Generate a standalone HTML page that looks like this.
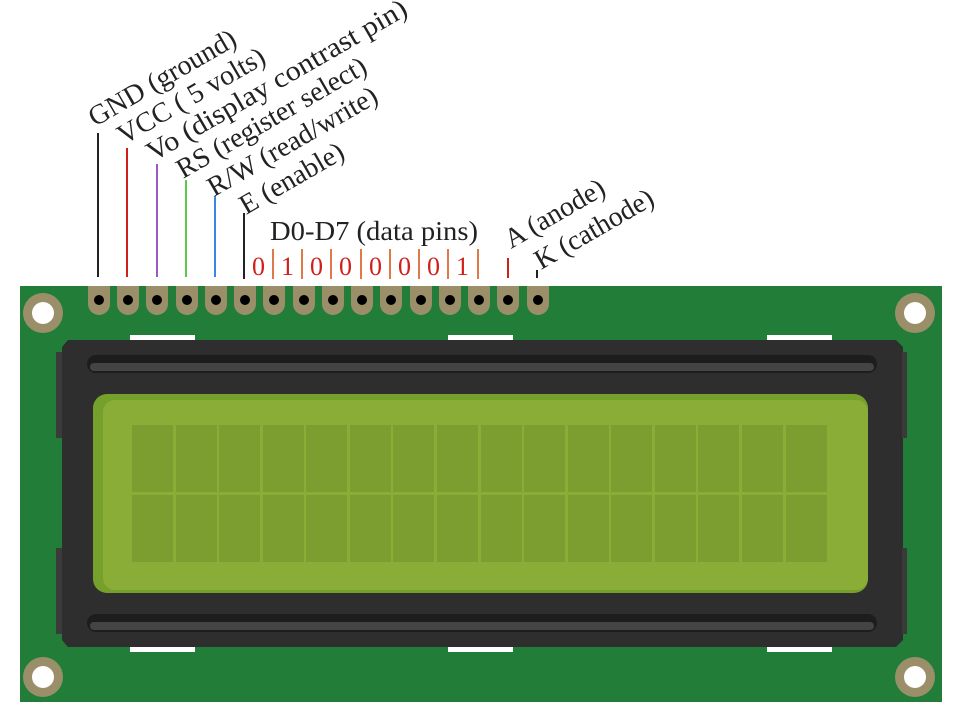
<!DOCTYPE html>
<html><head><style>body{margin:0;background:#fff}svg{display:block}</style></head><body>
<svg width="960" height="714" xmlns="http://www.w3.org/2000/svg" font-family="Liberation Serif, serif" fill="#222">
<rect x="20" y="286" width="922" height="416" fill="#217d38"/>
<g fill="#9b8f6a"><circle cx="43" cy="313" r="20"/><circle cx="915" cy="313" r="20"/><circle cx="43" cy="677" r="20"/><circle cx="915" cy="677" r="20"/></g>
<g fill="#fff"><circle cx="43" cy="313" r="11"/><circle cx="915" cy="313" r="11"/><circle cx="43" cy="677" r="11"/><circle cx="915" cy="677" r="11"/></g>
<g fill="#fff"><rect x="130" y="335" width="65" height="5"/><rect x="448" y="335" width="65" height="5"/><rect x="767" y="335" width="65" height="5"/><rect x="130" y="647" width="65" height="5"/><rect x="448" y="647" width="65" height="5"/><rect x="767" y="647" width="65" height="5"/></g>
<path d="M68 340 H896 L903 347 V640 L896 647 H68 L62 640 V347 Z" fill="#2e2e2e"/>
<rect x="56" y="352" width="6" height="86" fill="#3a3a3a"/><rect x="56" y="548" width="6" height="86" fill="#3a3a3a"/>
<rect x="902" y="352" width="5" height="86" fill="#3a3a3a"/><rect x="902" y="548" width="5" height="86" fill="#3a3a3a"/>
<rect x="87" y="355" width="790" height="18" rx="9" fill="#1d1d1d"/><rect x="90" y="363" width="784" height="8" rx="4" fill="#444"/>
<rect x="87" y="614" width="790" height="18" rx="9" fill="#1d1d1d"/><rect x="90" y="622" width="784" height="8" rx="4" fill="#444"/>
<rect x="93" y="394" width="775" height="199" rx="14" fill="#76a02c"/>
<rect x="103" y="400" width="765" height="190" rx="12" fill="#8aad37"/>
<g fill="#7c9e30">
<rect x="132" y="425" width="41" height="67"/><rect x="176" y="425" width="41" height="67"/><rect x="219" y="425" width="41" height="67"/><rect x="263" y="425" width="41" height="67"/><rect x="306" y="425" width="41" height="67"/><rect x="350" y="425" width="41" height="67"/><rect x="393" y="425" width="41" height="67"/><rect x="437" y="425" width="41" height="67"/><rect x="481" y="425" width="41" height="67"/><rect x="524" y="425" width="41" height="67"/><rect x="568" y="425" width="41" height="67"/><rect x="611" y="425" width="41" height="67"/><rect x="655" y="425" width="41" height="67"/><rect x="698" y="425" width="41" height="67"/><rect x="742" y="425" width="41" height="67"/><rect x="786" y="425" width="41" height="67"/>
<rect x="132" y="495" width="41" height="67"/><rect x="176" y="495" width="41" height="67"/><rect x="219" y="495" width="41" height="67"/><rect x="263" y="495" width="41" height="67"/><rect x="306" y="495" width="41" height="67"/><rect x="350" y="495" width="41" height="67"/><rect x="393" y="495" width="41" height="67"/><rect x="437" y="495" width="41" height="67"/><rect x="481" y="495" width="41" height="67"/><rect x="524" y="495" width="41" height="67"/><rect x="568" y="495" width="41" height="67"/><rect x="611" y="495" width="41" height="67"/><rect x="655" y="495" width="41" height="67"/><rect x="698" y="495" width="41" height="67"/><rect x="742" y="495" width="41" height="67"/><rect x="786" y="495" width="41" height="67"/>
</g>
<g fill="#9b8f6a">
<path d="M88 286h22v18a11 11 0 0 1-22 0z"/><path d="M117 286h22v18a11 11 0 0 1-22 0z"/><path d="M146 286h22v18a11 11 0 0 1-22 0z"/><path d="M176 286h22v18a11 11 0 0 1-22 0z"/><path d="M205 286h22v18a11 11 0 0 1-22 0z"/><path d="M234 286h22v18a11 11 0 0 1-22 0z"/><path d="M263 286h22v18a11 11 0 0 1-22 0z"/><path d="M293 286h22v18a11 11 0 0 1-22 0z"/><path d="M322 286h22v18a11 11 0 0 1-22 0z"/><path d="M351 286h22v18a11 11 0 0 1-22 0z"/><path d="M380 286h22v18a11 11 0 0 1-22 0z"/><path d="M410 286h22v18a11 11 0 0 1-22 0z"/><path d="M439 286h22v18a11 11 0 0 1-22 0z"/><path d="M468 286h22v18a11 11 0 0 1-22 0z"/><path d="M497 286h22v18a11 11 0 0 1-22 0z"/><path d="M527 286h22v18a11 11 0 0 1-22 0z"/>
</g>
<g fill="#000"><circle cx="99" cy="300" r="5"/><circle cx="128" cy="300" r="5"/><circle cx="157" cy="300" r="5"/><circle cx="187" cy="300" r="5"/><circle cx="216" cy="300" r="5"/><circle cx="245" cy="300" r="5"/><circle cx="274" cy="300" r="5"/><circle cx="304" cy="300" r="5"/><circle cx="333" cy="300" r="5"/><circle cx="362" cy="300" r="5"/><circle cx="391" cy="300" r="5"/><circle cx="421" cy="300" r="5"/><circle cx="450" cy="300" r="5"/><circle cx="479" cy="300" r="5"/><circle cx="508" cy="300" r="5"/><circle cx="538" cy="300" r="5"/></g>
<g stroke-width="2">
<line x1="98" y1="133" x2="98" y2="277" stroke="#222"/>
<line x1="127" y1="148" x2="127" y2="277" stroke="#d0201a"/>
<line x1="157" y1="164" x2="157" y2="277" stroke="#9b59c8"/>
<line x1="186" y1="180" x2="186" y2="277" stroke="#5cc94a"/>
<line x1="215" y1="196" x2="215" y2="277" stroke="#3a86e0"/>
<line x1="244" y1="213" x2="244" y2="279" stroke="#222"/>
<g stroke="#e07a4a"><line x1="273" y1="249" x2="273" y2="279"/><line x1="302" y1="249" x2="302" y2="279"/><line x1="331" y1="249" x2="331" y2="279"/><line x1="361" y1="249" x2="361" y2="279"/><line x1="390" y1="249" x2="390" y2="279"/><line x1="419" y1="249" x2="419" y2="279"/><line x1="448" y1="249" x2="448" y2="279"/><line x1="478" y1="249" x2="478" y2="279"/></g>
<line x1="508" y1="258" x2="508" y2="278" stroke="#d0201a"/>
<line x1="537" y1="270" x2="537" y2="278" stroke="#222"/>
</g>
<g font-size="26" fill="#d0201a"><text x="252" y="275">0</text><text x="281" y="275">1</text><text x="310" y="275">0</text><text x="339" y="275">0</text><text x="369" y="275">0</text><text x="398" y="275">0</text><text x="427" y="275">0</text><text x="456" y="275">1</text></g>
<text x="270" y="240" font-size="27" textLength="208" lengthAdjust="spacingAndGlyphs">D0-D7 (data pins)</text>
<g font-size="28">
<text transform="translate(95,127) rotate(-30)">GND (ground)</text>
<text transform="translate(124,145) rotate(-30)">VCC ( 5 volts)</text>
<text transform="translate(153,162) rotate(-30)" textLength="296" lengthAdjust="spacingAndGlyphs">Vo (display contrast pin)</text>
<text transform="translate(183,179) rotate(-30)">RS (register select)</text>
<text transform="translate(214,197) rotate(-30)">R/W (read/write)</text>
<text transform="translate(246,215) rotate(-30)">E (enable)</text>
<text transform="translate(511,249) rotate(-30)">A (anode)</text>
<text transform="translate(541,270) rotate(-30)">K (cathode)</text>
</g>
</svg>
</body></html>
